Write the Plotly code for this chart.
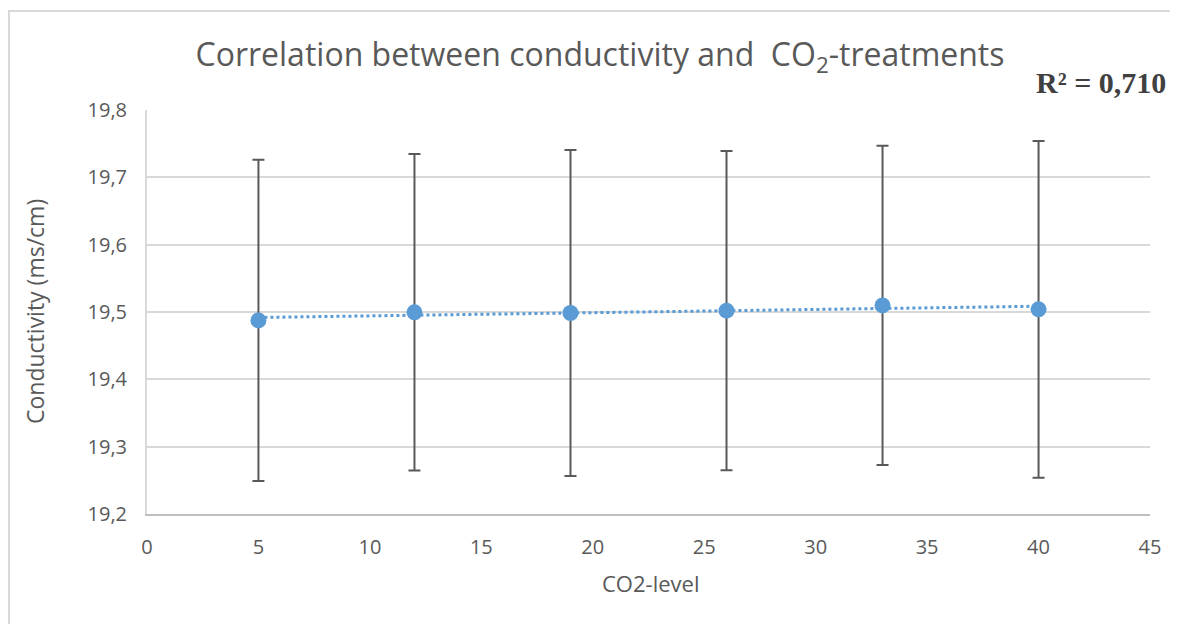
import numpy as np
import plotly.graph_objects as go

co2_level = [5, 12, 19, 26, 33, 40]
conductivity = [19.4875, 19.4995, 19.4985, 19.502, 19.5098, 19.504]
error = [0.2385, 0.235, 0.242, 0.237, 0.237, 0.250]
y_ticks = [19.2, 19.3, 19.4, 19.5, 19.6, 19.7, 19.8]
y_tick_labels = ["19,2", "19,3", "19,4", "19,5", "19,6", "19,7", "19,8"]
x_ticks = [0, 5, 10, 15, 20, 25, 30, 35, 40, 45]
r2_text = "R² = 0,710"

slope, intercept = np.polyfit(co2_level, conductivity, 1)
trend_x = [co2_level[0], co2_level[-1]]
trend_y = [slope * x + intercept for x in trend_x]

fig = go.Figure()
fig.add_trace(go.Scatter(
    x=co2_level, y=conductivity, mode="markers",
    marker=dict(color="#5B9BD5", size=16),
    error_y=dict(type="data", array=error, visible=True, color="#595959",
                 thickness=2, width=6),
    showlegend=False,
))
fig.add_trace(go.Scatter(
    x=trend_x, y=trend_y, mode="lines",
    line=dict(color="#5B9BD5", width=3, dash="dot"),
    showlegend=False,
))

OFF = 8  # page body margin
W, H = 1178 - OFF, 624 - OFF
ml, mr, mt, mb = 147 - OFF, 1178 - 1150, 110 - OFF, 624 - 514
pw, ph = W - ml - mr, H - mt - mb


def px(xp):
    return (xp - OFF - ml) / pw


def py(yp):
    return 1 - (yp - OFF - mt) / ph


fig.update_layout(
    width=W, height=H,
    margin=dict(l=ml, r=mr, t=mt, b=mb),
    paper_bgcolor="white", plot_bgcolor="white",
    font=dict(family="Open Sans", color="#595959"),
    title=dict(
        text="Correlation between conductivity and  CO<sub>2</sub>-treatments",
        x=(600 - OFF) / W, xref="container", xanchor="center",
        y=1 - (55 - OFF) / H, yref="container", yanchor="middle",
        font=dict(size=32, color="#595959", family="Open Sans"),
    ),
    xaxis=dict(
        range=[0, 45], tickvals=x_ticks, showgrid=False,
        showline=True, linecolor="#BFBFBF", linewidth=2,
        ticks="", tickfont=dict(size=20, color="#595959"),
        ticklabelstandoff=14,
        zeroline=False,
    ),
    yaxis=dict(
        range=[19.2, 19.8], tickvals=y_ticks, ticktext=y_tick_labels,
        showgrid=True, gridcolor="#D9D9D9", gridwidth=2,
        showline=True, linecolor="#D9D9D9", linewidth=2,
        ticks="", tickfont=dict(size=20, color="#595959"),
        ticklabelstandoff=14,
        zeroline=False,
    ),
    annotations=[
        dict(
            text="<b>" + r2_text + "</b>", xref="paper", yref="paper",
            x=px(1168), y=py(83), xanchor="right", yanchor="middle",
            showarrow=False, font=dict(family="Liberation Serif", size=30, color="#404040"),
        ),
        dict(
            text="CO2-level", xref="paper", yref="paper",
            x=px(650), y=py(583), xanchor="center", yanchor="middle",
            showarrow=False, font=dict(size=22, color="#595959"),
        ),
        dict(
            text="Conductivity (ms/cm)", xref="paper", yref="paper",
            x=px(35), y=py(312), xanchor="center", yanchor="middle", textangle=-90,
            showarrow=False, font=dict(size=23, color="#595959"),
        ),
    ],
    shapes=[
        dict(type="line", xref="paper", yref="paper",
             x0=px(8), x1=px(1200), y0=py(11), y1=py(11),
             line=dict(color="#D9D9D9", width=2), layer="below"),
        dict(type="line", xref="paper", yref="paper",
             x0=px(9), x1=px(9), y0=py(11), y1=py(640),
             line=dict(color="#D9D9D9", width=2), layer="below"),
    ],
)

fig.write_html("out.html")
